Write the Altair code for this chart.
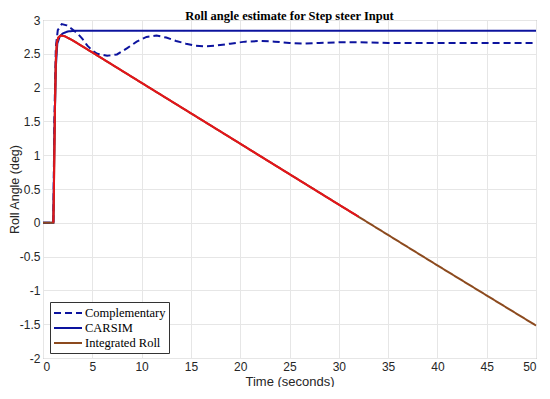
import altair as alt
import pandas as pd

# ---- data ----
comp_t = [0, 1.05, 1.15, 1.3, 1.5, 1.9, 2.4, 3.0, 3.5, 4.0, 4.5, 5.0, 5.5, 6.5, 7.5, 8.5, 9.5, 10.5,
          11.5, 12.5, 13.5, 14.5, 15.5, 16.5, 17.5, 19.0, 20.5, 22.0, 23.5, 25.0, 26.5, 28.0, 30.0,
          32.0, 35.0, 40.0, 45.0, 50.0]
comp_y = [0, 0, 1.5, 2.6, 2.85, 2.94, 2.92, 2.86, 2.80, 2.72, 2.62, 2.55, 2.50, 2.47, 2.49, 2.58,
          2.68, 2.75, 2.77, 2.74, 2.69, 2.65, 2.62, 2.61, 2.62, 2.65, 2.68, 2.69, 2.68, 2.66, 2.65,
          2.66, 2.67, 2.67, 2.66, 2.66, 2.66, 2.66]

carsim_t = [0, 1.05, 1.15, 1.3, 1.45, 1.7, 2.0, 2.5, 3.2, 50.0]
carsim_y = [0, 0, 1.2, 2.3, 2.65, 2.76, 2.80, 2.83, 2.84, 2.84]

roll_t = [0, 1.05, 1.1, 1.2, 1.3, 1.4, 1.55, 1.8, 2.2, 3.0, 5.0, 10.0, 20.0, 30.0, 40.0, 50.0]
roll_y = [0, 0, 0.4, 1.6, 2.4, 2.66, 2.74, 2.77, 2.76, 2.70, 2.52, 2.07, 1.17, 0.27, -0.63, -1.52]

red_t = [1.05, 1.1, 1.2, 1.3, 1.4, 1.55, 1.8, 2.2, 3.0, 5.0, 10.0, 20.0, 30.0, 32.0]
red_y = [0, 0.4, 1.6, 2.4, 2.66, 2.74, 2.77, 2.76, 2.70, 2.52, 2.07, 1.17, 0.27, 0.09]

series_names = ["Complementary", "CARSIM", "Integrated Roll"]
series_colors = ["#0c139e", "#0c139e", "#8c4a1e"]
series_dash = [[7, 4], [1, 0], [1, 0]]

x_ticks = [0, 5, 10, 15, 20, 25, 30, 35, 40, 45, 50]
y_ticks = [-2, -1.5, -1, -0.5, 0, 0.5, 1, 1.5, 2, 2.5, 3]

rows = []
for name, ts, ys in [("Complementary", comp_t, comp_y),
                     ("CARSIM", carsim_t, carsim_y),
                     ("Integrated Roll", roll_t, roll_y)]:
    for t, y in zip(ts, ys):
        rows.append({"series": name, "t": t, "y": y})
df = pd.DataFrame(rows)
df_red = pd.DataFrame({"t": red_t, "y": red_y})

x_enc = alt.X("t:Q", scale=alt.Scale(domain=[0, 50], nice=False),
              axis=alt.Axis(values=x_ticks, title="Time (seconds)", labelPadding=3,
                            titlePadding=3, labelOverlap=False,
                            labelExpr="datum.value + ''"))
y_enc = alt.Y("y:Q", scale=alt.Scale(domain=[-2, 3], nice=False),
              axis=alt.Axis(values=y_ticks, title="Roll Angle (deg)", labelPadding=3,
                            titlePadding=-2, titleFontSize=12.5, labelOverlap=False,
                            labelExpr="datum.value + ''"))

lines = alt.Chart(df).mark_line(strokeWidth=2).encode(
    x=x_enc,
    y=y_enc,
    color=alt.Color("series:N",
                    scale=alt.Scale(domain=series_names, range=series_colors),
                    legend=alt.Legend(title=None, orient="none", legendX=7, legendY=282,
                                      symbolType="M-1,0H3", symbolSize=196,
                                      symbolStrokeWidth=2, labelFont="Liberation Serif",
                                      labelFontSize=12.5, labelColor="#000000",
                                      strokeColor="#333333", fillColor="#ffffff",
                                      padding=3, rowPadding=-2, labelOffset=16)),
    strokeDash=alt.StrokeDash("series:N",
                              scale=alt.Scale(domain=series_names, range=series_dash)),
    order=alt.Order("t:Q"),
)

red = alt.Chart(df_red).mark_line(strokeWidth=2, color="#e3141b").encode(
    x=x_enc, y=y_enc
)

chart = alt.layer(lines, red).properties(
    width=493, height=338,
    title=alt.TitleParams("Roll angle estimate for Step steer Input",
                          font="Liberation Serif", fontSize=12.5, fontWeight="bold",
                          color="#000000", offset=3, dy=11),
    autosize=alt.AutoSizeParams(type="none"),
    padding={"left": 35, "top": 12, "right": 6, "bottom": 29},
).configure_axis(
    labelFont="Liberation Sans", labelFontSize=12, labelColor="#262626",
    titleFont="Liberation Sans", titleFontSize=13, titleColor="#262626",
    titleFontWeight="normal",
    gridColor="#e6e6e6", gridWidth=1, domain=False, ticks=False,
).configure_view(stroke="#8c8c8c", strokeWidth=1)

chart.save("out.html", embed_options={"renderer": "svg", "actions": False})
